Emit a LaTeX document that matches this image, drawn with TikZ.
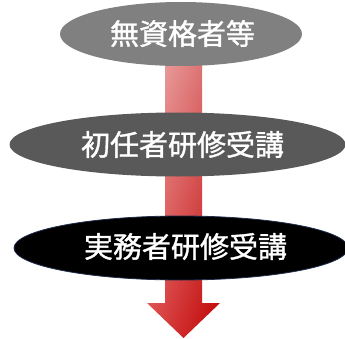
\documentclass[tikz,border=0pt]{standalone}
\usepackage{fontspec}
\newfontfamily\jp{Noto Sans CJK JP}[FakeBold=1.2]
\usetikzlibrary{shapes.geometric,shadings,calc}
\definecolor{eone}{HTML}{808080}
\definecolor{etwo}{HTML}{595959}
\definecolor{ethree}{HTML}{000000}
\definecolor{eborder}{HTML}{1F2D4D}
\definecolor{arUL}{HTML}{F0B4B4}
\definecolor{arUR}{HTML}{D86A6A}
\definecolor{arLL}{HTML}{DC4A4A}
\definecolor{arLR}{HTML}{C00000}
\tikzset{
  stage/.style={ellipse, inner sep=0pt, minimum height=64pt},
  lbl/.style={text=white, font=\jp\fontsize{29}{32}\selectfont, inner sep=0pt}
}
\begin{document}
\begin{tikzpicture}[x=1pt,y=1pt]
\useasboundingbox (0,0) rectangle (345,338);
% arrow
\coordinate (top) at (183.5,298);
\coordinate (tip) at (183.5,0);
\shade[upper left=arUL, upper right=arUR, lower left=arLL, lower right=arLR]
  ($(top)+(-18.5,0)$) -- ($(top)+(18.5,0)$) -- (202,35) -- (220,35) -- (tip)
  -- (147,35) -- (165,35) -- cycle;
% ellipses
\node[stage, fill=eone, minimum width=242pt] (e1) at (181,304) {};
\node[stage, fill=etwo, minimum width=336pt] (e2) at (177.5,193.5) {};
\node[stage, fill=ethree, draw=eborder, line width=0.8pt, minimum width=334pt] (e3) at (181,90) {};
\node[lbl] (t1) at (182.5,304.5) {無資格者等};
\node[lbl] (t2) at (182.5,193.5) {初任者研修受講};
\node[lbl] (t3) at (185.5,91.5) {実務者研修受講};
\end{tikzpicture}
\end{document}
